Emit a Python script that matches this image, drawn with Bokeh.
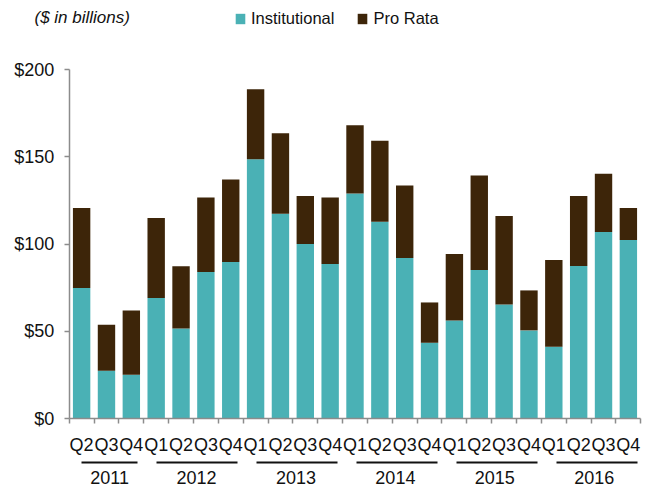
from bokeh.plotting import figure
from bokeh.models import (Range1d, FixedTicker, LinearAxis, NumeralTickFormatter, Legend,
                          LegendItem, Label, ColumnDataSource, CustomJSTickFormatter)
from bokeh.embed import file_html
from bokeh.resources import INLINE

# ---- data ----
quarters = ["Q2", "Q3", "Q4",
            "Q1", "Q2", "Q3", "Q4",
            "Q1", "Q2", "Q3", "Q4",
            "Q1", "Q2", "Q3", "Q4",
            "Q1", "Q2", "Q3", "Q4",
            "Q1", "Q2", "Q3", "Q4"]
years = ["2011", "2012", "2013", "2014", "2015", "2016"]
quarters_per_year = [3, 4, 4, 4, 4, 4]
institutional = [74.8, 27.4, 25.1,
                 69.0, 51.6, 84.0, 89.7,
                 148.6, 117.4, 100.0, 88.6,
                 128.9, 112.8, 92.0, 43.4,
                 56.2, 85.1, 65.4, 50.5,
                 41.1, 87.4, 106.9, 102.3]
pro_rata = [45.9, 26.3, 36.8,
            45.9, 35.6, 42.6, 47.2,
            40.1, 46.1, 27.5, 38.0,
            39.1, 46.3, 41.5, 23.1,
            38.1, 54.1, 50.7, 22.9,
            49.7, 40.1, 33.4, 18.4]
y_ticks = [0, 50, 100, 150, 200]

# ---- style / layout ----
TEAL = "#4AB1B5"
BROWN = "#3D2509"
AXIS_GREY = "#8c8c8c"
TXT = "#111111"
FONT = "Liberation Sans"

W, H = 656, 492
# pixel geometry of the plotting area inside the canvas
AX_LEFT, AX_RIGHT = 68.7, 640.3      # x of value 0 and value n
AX_TOP, AX_BOTTOM = 69.0, 418.0      # y of value 200 and value 0
YEAR_LINE_PX = 462.0                 # y of the year underline
n = len(quarters)
ymax = y_ticks[-1]
ppu = (AX_RIGHT - AX_LEFT) / n
ppy = (AX_BOTTOM - AX_TOP) / ymax
x_range = Range1d(-AX_LEFT / ppu, n + (W - AX_RIGHT) / ppu)
y_range = Range1d(-(H - AX_BOTTOM) / ppy, ymax + AX_TOP / ppy)

src = ColumnDataSource(dict(x=[i + 0.5 for i in range(n)],
                            inst=institutional, pro=pro_rata))

p = figure(width=W, height=H, output_backend="svg", toolbar_location=None,
           x_range=x_range, y_range=y_range,
           min_border=0, min_border_left=0, min_border_right=0,
           min_border_top=0, min_border_bottom=0)
p.outline_line_color = None
p.xgrid.visible = False
p.ygrid.visible = False
p.background_fill_color = "white"
p.border_fill_color = "white"

rs = p.vbar_stack(["inst", "pro"], x="x", width=0.7, color=[TEAL, BROWN],
                  line_color=None, source=src)

# y axis
ya = p.yaxis[0]
ya.fixed_location = 0
ya.bounds = (0, ymax)
ya.ticker = FixedTicker(ticks=y_ticks)
ya.formatter = NumeralTickFormatter(format="$0")
ya.axis_line_color = AXIS_GREY
ya.axis_line_width = 1.5
ya.major_tick_line_color = AXIS_GREY
ya.major_tick_line_width = 1.5
ya.major_tick_out = 5
ya.major_tick_in = 0
ya.minor_tick_line_color = None
ya.major_label_text_font = FONT
ya.major_label_text_font_size = "18px"
ya.major_label_text_color = TXT
ya.major_label_standoff = 10

# x axis: quarter labels at centres, ticks at boundaries
centers = [i + 0.5 for i in range(n)]
bounds = [float(i) for i in range(n + 1)]
xa = p.xaxis[0]
xa.fixed_location = 0
xa.bounds = (0, n)
xa.ticker = FixedTicker(ticks=centers, minor_ticks=bounds)
xa.formatter = CustomJSTickFormatter(args=dict(qlabels=quarters),
                                     code="return qlabels[Math.floor(tick)] || '';")
xa.axis_line_color = AXIS_GREY
xa.axis_line_width = 1.5
xa.major_tick_line_color = None
xa.major_tick_out = 5
xa.major_tick_in = 0
xa.minor_tick_line_color = AXIS_GREY
xa.minor_tick_line_width = 1.5
xa.minor_tick_out = 5
xa.minor_tick_in = 0
xa.major_label_text_font = FONT
xa.major_label_text_font_size = "18px"
xa.major_label_text_color = TXT
xa.major_label_standoff = 11

# year axis: labels centred under black underline segments
starts, ends = [], []
pos = 0
for q in quarters_per_year:
    starts.append(pos + 0.5)
    ends.append(pos + q - 0.25)
    pos += q
year_centers = [(s + e) / 2 for s, e in zip(starts, ends)]
pattern = [0, round(starts[0] * ppu)]
for k in range(len(starts)):
    pattern.append(round((ends[k] - starts[k]) * ppu))
    if k + 1 < len(starts):
        pattern.append(round((starts[k + 1] - ends[k]) * ppu))
pattern.append(200)

yr = LinearAxis(ticker=FixedTicker(ticks=year_centers),
                formatter=CustomJSTickFormatter(
                    args=dict(ylabels=years, ycenters=year_centers),
                    code="let b=0; for (let i=0;i<ycenters.length;i++){ if (Math.abs(ycenters[i]-tick) < Math.abs(ycenters[b]-tick)) b=i; } return ylabels[b];"))
yr.fixed_location = -(YEAR_LINE_PX - AX_BOTTOM) / ppy
yr.bounds = (0, n)
yr.axis_line_color = TXT
yr.axis_line_width = 2
yr.axis_line_dash = " ".join(str(v) for v in pattern)
yr.major_tick_line_color = None
yr.minor_tick_line_color = None
yr.major_tick_out = 0
yr.major_tick_in = 0
yr.major_label_text_font = FONT
yr.major_label_text_font_size = "18px"
yr.major_label_text_color = TXT
yr.major_label_standoff = 8
p.add_layout(yr, "below")

# legend at the top
legend = Legend(items=[LegendItem(label="Institutional", renderers=[rs[0]]),
                       LegendItem(label="Pro Rata", renderers=[rs[1]])],
                location=(234, H - 28), orientation="horizontal",
                padding=0, margin=0, spacing=22, label_standoff=5,
                glyph_width=12, glyph_height=13,
                border_line_color=None, background_fill_alpha=0,
                label_text_font=FONT, label_text_font_size="16.5px",
                label_text_color=TXT)
p.add_layout(legend)

title = Label(x=34, y=H - 17, x_units="screen", y_units="screen",
              text="($ in billions)", text_font=FONT, text_font_style="italic",
              text_font_size="17px", text_color=TXT, text_baseline="alphabetic")
p.add_layout(title)

open("out.html", "w").write(file_html(p, INLINE))
